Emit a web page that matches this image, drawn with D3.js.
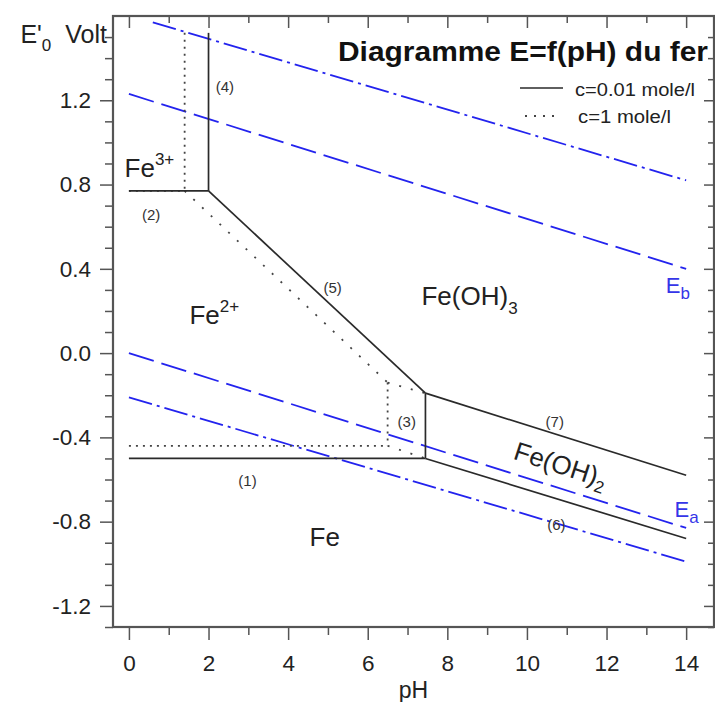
<!DOCTYPE html>
<html>
<head>
<meta charset="utf-8">
<script src="https://cdn.jsdelivr.net/npm/d3@7"></script>
<style>
  body { margin: 0; background: #fff; }
  text { font-family: "Liberation Sans", Arial, Helvetica, sans-serif; }
</style>
</head>
<body>
<div id="chart"></div>
<script>
// axis ticks
var phMajor = [0, 2, 4, 6, 8, 10, 12, 14];
var phMinor = [1, 3, 5, 7, 9, 11, 13];
var eMajor = [-1.2, -0.8, -0.4, 0.0, 0.4, 0.8, 1.2];
var eMinor = [-1.3, -1.1, -1.0, -0.9, -0.7, -0.6, -0.5, -0.3, -0.2, -0.1, 0.1, 0.2, 0.3, 0.5, 0.6, 0.7, 0.9, 1.0, 1.1, 1.3, 1.4, 1.5];

// c = 0.01 mole/l  (solid), points are [pH, E]
var solid1 = [[0, -0.50], [7.45, -0.50]];
var solid2 = [[0, 0.77], [2, 0.77]];
var solid3 = [[7.45, -0.50], [7.45, -0.19]];
var solid4 = [[2, 0.77], [2, 1.52]];
var solid5 = [[2, 0.77], [7.45, -0.19]];
var solid6 = [[7.45, -0.50], [14, -0.88]];
var solid7 = [[7.45, -0.19], [14, -0.58]];

// c = 1 mole/l  (dotted)
var dotted4 = [[1.4, 1.52], [1.4, 0.77]];
var dotted2 = [[0, 0.77], [1.4, 0.77]];
var dotted5 = [[1.4, 0.77], [6.5, -0.14]];
var dotted7 = [[6.5, -0.14], [7.45, -0.19]];
var dotted3 = [[6.5, -0.14], [6.5, -0.44]];
var dotted1 = [[0, -0.44], [6.5, -0.44]];
var dotted6 = [[6.5, -0.44], [7.45, -0.50]];

// water lines (blue)
var lineEb = [[0, 1.23], [14, 0.40]];
var lineEa = [[0, 0.00], [14, -0.83]];
var upperDashDot = [[0.6, 1.57], [14, 0.82]];
var lowerDashDot = [[0, -0.21], [14, -0.99]];

// line numbers  [text, pH, E]
var lineNumbers = [
  ["(1)", 2.98, -0.607],
  ["(2)", 0.56, 0.657],
  ["(3)", 6.98, -0.327],
  ["(4)", 2.41, 1.264],
  ["(5)", 5.12, 0.311],
  ["(6)", 10.74, -0.812],
  ["(7)", 10.70, -0.327]
];

// species  [base, script, pH, E]
var species = [
  ["Fe", "3+", -0.11, 0.838],
  ["Fe", "2+", 1.52, 0.140],
  ["Fe(OH)", "3", 7.35, 0.230],
  ["Fe", "", 4.54, -0.917]
];

var width = 715, height = 702;
var x = d3.scaleLinear().domain([-0.4, 14.7]).range([113, 714]);
var y = d3.scaleLinear().domain([-1.3, 1.6]).range([627, 16]);

var svg = d3.select('#chart').append('svg')
  .attr('width', width).attr('height', height);

var line = d3.line().x(function(d) { return x(d[0]); }).y(function(d) { return y(d[1]); });

function axisStyle(g) {
  g.selectAll('line').attr('stroke', '#555').attr('stroke-width', 1.5);
  g.select('.domain').remove();
  g.selectAll('text').attr('fill', '#222').style('font-size', '22.5px');
}

// bottom
svg.append('g').attr('transform', 'translate(0,627)')
  .call(d3.axisBottom(x).tickValues(phMajor).tickSize(13).tickPadding(15).tickFormat(d3.format('d')))
  .call(axisStyle);
svg.append('g').attr('transform', 'translate(0,627)')
  .call(d3.axisBottom(x).tickValues(phMinor).tickSize(8).tickFormat(''))
  .call(axisStyle);
// top (inward)
svg.append('g').attr('transform', 'translate(0,16)')
  .call(d3.axisTop(x).tickValues(phMajor).tickSize(-12).tickFormat(''))
  .call(axisStyle);
svg.append('g').attr('transform', 'translate(0,16)')
  .call(d3.axisTop(x).tickValues(phMinor).tickSize(-7).tickFormat(''))
  .call(axisStyle);
// left
svg.append('g').attr('transform', 'translate(113,0)')
  .call(d3.axisLeft(y).tickValues(eMajor).tickSize(13).tickPadding(9)
    .tickFormat(function(d) { return d.toFixed(1); }))
  .call(axisStyle);
svg.append('g').attr('transform', 'translate(113,0)')
  .call(d3.axisLeft(y).tickValues(eMinor).tickSize(8).tickFormat(''))
  .call(axisStyle);
// right (inward)
svg.append('g').attr('transform', 'translate(714,0)')
  .call(d3.axisRight(y).tickValues(eMajor).tickSize(-10).tickFormat(''))
  .call(axisStyle);
svg.append('g').attr('transform', 'translate(714,0)')
  .call(d3.axisRight(y).tickValues(eMinor).tickSize(-6).tickFormat(''))
  .call(axisStyle);

// frame
svg.append('rect')
  .attr('x', x.range()[0]).attr('y', y.range()[1])
  .attr('width', x.range()[1] - x.range()[0]).attr('height', y.range()[0] - y.range()[1])
  .attr('fill', 'none').attr('stroke', '#555').attr('stroke-width', 2.2);

var plot = svg.append('g');

// blue water lines
var blue = '#2323ee';
plot.selectAll('path.dash').data([lineEb, lineEa]).enter().append('path')
  .attr('d', line).attr('fill', 'none').attr('stroke', blue)
  .attr('stroke-width', 1.8).attr('stroke-dasharray', '26,8');
plot.selectAll('path.dashdot').data([upperDashDot, lowerDashDot]).enter().append('path')
  .attr('d', line).attr('fill', 'none').attr('stroke', blue)
  .attr('stroke-width', 1.8).attr('stroke-dasharray', '24,5,3,5');

// dotted, c = 1 mole/l
plot.selectAll('path.dot').data([dotted4, dotted2, dotted5, dotted7, dotted3, dotted1, dotted6]).enter().append('path')
  .attr('d', line).attr('fill', 'none').attr('stroke', '#444').attr('stroke-width', 1.8)
  .attr('stroke-dasharray', function(d) {
    // sloped parts are drawn with sparser dots in the original
    return (d[0][0] !== d[1][0] && d[0][1] !== d[1][1]) ? '2,10' : '2,5';
  });

// solid, c = 0.01 mole/l
plot.selectAll('path.solid').data([solid1, solid2, solid3, solid4, solid5, solid6, solid7]).enter().append('path')
  .attr('d', line).attr('fill', 'none').attr('stroke', '#2a2a2a').attr('stroke-width', 1.7);

// line numbers
plot.selectAll('text.num').data(lineNumbers).enter().append('text')
  .attr('x', function(d) { return x(d[1]); })
  .attr('y', function(d) { return y(d[2]); })
  .attr('text-anchor', 'middle').attr('dominant-baseline', 'central')
  .style('font-size', '15px').attr('fill', '#333')
  .text(function(d) { return d[0]; });

// species labels
species.forEach(function(s) {
  var t = plot.append('text')
    .attr('x', x(s[2])).attr('y', y(s[3]))
    .style('font-size', '26px').attr('fill', '#222');
  t.append('tspan').text(s[0]);
  if (s[1]) {
    var sup = s[1].indexOf('+') >= 0;
    t.append('tspan').attr('dy', sup ? -12 : 9).style('font-size', '17px').text(s[1]);
  }
});

// Fe(OH)2 along the band
var fo = plot.append('text')
  .attr('transform', 'translate(' + x(10.85) + ',' + y(-0.53) + ') rotate(18)')
  .attr('text-anchor', 'middle').attr('dominant-baseline', 'central')
  .style('font-size', '26px').attr('fill', '#222');
fo.append('tspan').text('Fe(OH)');
fo.append('tspan').attr('dy', 9).style('font-size', '17px').text('2');

// Eb, Ea
[["b", 13.49, 0.287], ["a", 13.71, -0.779]].forEach(function(e) {
  var t = plot.append('text').attr('x', x(e[1])).attr('y', y(e[2]))
    .style('font-size', '22px').attr('fill', '#3535e8');
  t.append('tspan').text('E');
  t.append('tspan').attr('dy', 6).style('font-size', '17px').text(e[0]);
});

// title
svg.append('text').attr('x', 338).attr('y', 61)
  .attr('textLength', 370).attr('lengthAdjust', 'spacingAndGlyphs')
  .style('font-size', '27px').style('font-weight', 'bold').attr('fill', '#111')
  .text('Diagramme E=f(pH) du fer');

// legend
svg.append('line').attr('x1', 520).attr('x2', 563).attr('y1', 88).attr('y2', 88)
  .attr('stroke', '#2a2a2a').attr('stroke-width', 1.7);
svg.append('line').attr('x1', 525).attr('x2', 560).attr('y1', 116).attr('y2', 116)
  .attr('stroke', '#444').attr('stroke-width', 1.8).attr('stroke-dasharray', '2,7');
svg.append('text').attr('x', 575).attr('y', 96)
  .attr('textLength', 120).attr('lengthAdjust', 'spacingAndGlyphs')
  .style('font-size', '17.5px').attr('fill', '#222').text('c=0.01 mole/l');
svg.append('text').attr('x', 578).attr('y', 123)
  .attr('textLength', 93).attr('lengthAdjust', 'spacingAndGlyphs')
  .style('font-size', '17.5px').attr('fill', '#222').text('c=1 mole/l');

// axis titles
var yt = svg.append('text').attr('x', 107).attr('y', 43).attr('text-anchor', 'end')
  .style('font-size', '25px').attr('fill', '#222');
yt.append('tspan').text("E'");
yt.append('tspan').attr('dy', 8).style('font-size', '17px').text('0');
yt.append('tspan').attr('dy', -8).attr('dx', 14).text('Volt');

svg.append('text').attr('x', (x.range()[0] + x.range()[1]) / 2).attr('y', 698)
  .attr('text-anchor', 'middle').style('font-size', '23px').attr('fill', '#222').text('pH');
</script>
</body>
</html>
